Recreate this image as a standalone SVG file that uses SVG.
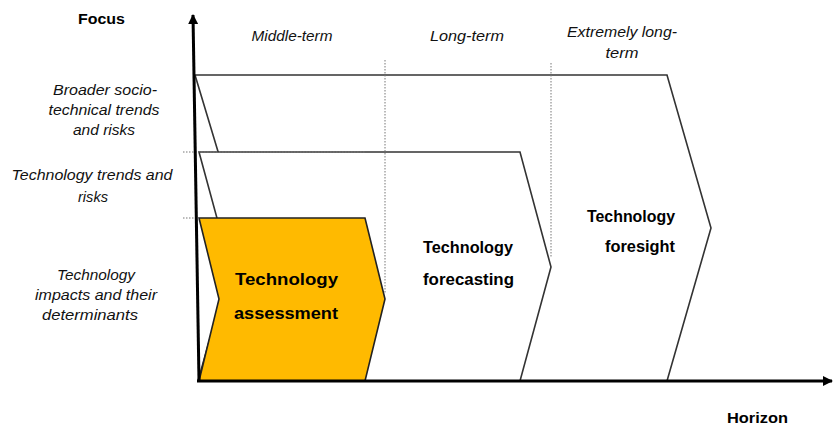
<svg xmlns="http://www.w3.org/2000/svg" width="833" height="428" viewBox="0 0 833 428">
<defs>
<marker id="ah" viewBox="0 0 10 10" refX="9" refY="5" markerWidth="10" markerHeight="10" markerUnits="userSpaceOnUse" orient="auto"><path d="M0,0 L10,5 L0,10 z" fill="#000"/></marker>
</defs>
<style>
.ch{fill:#fff;stroke:#333;stroke-width:1.6;stroke-linejoin:miter}
.or{fill:#FFBA00;stroke:#222;stroke-width:1.6}
.dot{stroke:#777;stroke-width:1;stroke-dasharray:1.5 1.5;fill:none}
.ax{stroke:#000;stroke-width:3;fill:none}
.lab{font-family:"Liberation Sans",Arial,sans-serif;font-style:italic;font-size:15px;fill:#111;text-anchor:middle}
.nt{font-family:"Liberation Sans",Arial,sans-serif;font-weight:bold;font-size:16px;fill:#000}
.axt{font-family:"Liberation Sans",Arial,sans-serif;font-weight:bold;font-size:15px;fill:#000}
</style>
<rect width="833" height="428" fill="#fff"/>
<g id="foresight">
<path class="ch" d="M195,75 L667,75 L711,228 L667,381 L198,381 L241,228 Z"/>
<text class="nt" x="587" y="222" textLength="88" lengthAdjust="spacingAndGlyphs">Technology</text>
<text class="nt" x="605" y="252" textLength="70" lengthAdjust="spacingAndGlyphs">foresight</text>
</g>
<g id="forecasting">
<path class="ch" d="M199,152 L520,152 L551,267 L520,381 L199,381 L230,266 Z"/>
<text class="nt" x="423" y="253" textLength="90" lengthAdjust="spacingAndGlyphs">Technology</text>
<text class="nt" x="423" y="285" textLength="91" lengthAdjust="spacingAndGlyphs">forecasting</text>
</g>
<g id="assessment">
<path class="or" d="M199,218 L365,218 L385,299 L365,381 L199,381 L219,299 Z"/>
<text class="nt" x="235" y="285" font-size="18" textLength="103" lengthAdjust="spacingAndGlyphs">Technology</text>
<text class="nt" x="234" y="319" font-size="18" textLength="104" lengthAdjust="spacingAndGlyphs">assessment</text>
</g>
<g id="connectors">
<line class="dot" x1="385" y1="60" x2="385" y2="294"/>
<line class="dot" x1="551" y1="63" x2="551" y2="258"/>
<line class="dot" x1="183" y1="152" x2="366" y2="152"/>
<line class="dot" x1="183" y1="218" x2="199" y2="218"/>
<line class="ax" x1="199" y1="381" x2="193" y2="15" marker-end="url(#ah)"/>
<line class="ax" x1="197" y1="381" x2="832" y2="381" marker-end="url(#ah)"/>
</g>
<g id="labels">
<text class="axt" x="78" y="24" textLength="47" lengthAdjust="spacingAndGlyphs">Focus</text>
<text class="axt" x="727" y="423" textLength="61" lengthAdjust="spacingAndGlyphs">Horizon</text>
<text class="lab" x="292" y="41" textLength="81" lengthAdjust="spacingAndGlyphs">Middle-term</text>
<text class="lab" x="467" y="41" textLength="74" lengthAdjust="spacingAndGlyphs">Long-term</text>
<text class="lab" x="622" y="37" textLength="110" lengthAdjust="spacingAndGlyphs">Extremely long-</text>
<text class="lab" x="622" y="58" textLength="33" lengthAdjust="spacingAndGlyphs">term</text>
<text class="lab" x="105" y="95" textLength="104" lengthAdjust="spacingAndGlyphs">Broader socio-</text>
<text class="lab" x="104" y="115" textLength="111" lengthAdjust="spacingAndGlyphs">technical trends</text>
<text class="lab" x="104" y="135" textLength="62" lengthAdjust="spacingAndGlyphs">and risks</text>
<text class="lab" x="92" y="180" textLength="161" lengthAdjust="spacingAndGlyphs">Technology trends and</text>
<text class="lab" x="93" y="202" textLength="30" lengthAdjust="spacingAndGlyphs">risks</text>
<text class="lab" x="96" y="280" textLength="78" lengthAdjust="spacingAndGlyphs">Technology</text>
<text class="lab" x="96" y="300" textLength="122" lengthAdjust="spacingAndGlyphs">impacts and their</text>
<text class="lab" x="90" y="320" textLength="96" lengthAdjust="spacingAndGlyphs">determinants</text>
</g>
</svg>
